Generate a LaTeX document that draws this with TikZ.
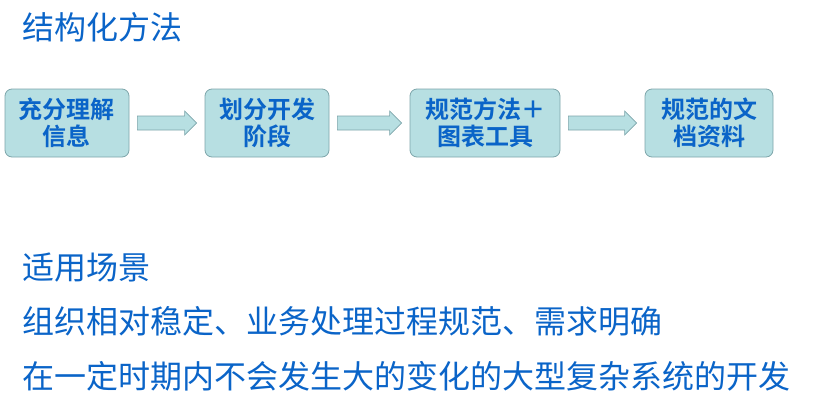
\documentclass[tikz,border=0pt]{standalone}
\usepackage{fontspec}
\newfontfamily\cjk{Noto Sans CJK SC}
\newfontfamily\cjkb{Noto Sans CJK SC Bold}
\definecolor{boxfill}{RGB}{183,223,226}
\definecolor{boxline}{RGB}{125,165,170}
\definecolor{txt}{RGB}{10,100,200}
\tikzset{
 stepbox/.style={draw=boxline,fill=boxfill,rounded corners=7pt,line width=0.8pt,text=txt,font=\cjkb\fontsize{24}{27}\selectfont,align=center,minimum height=68pt,inner sep=1pt},
 blockarrow/.style={draw=boxline,fill=boxfill,line width=0.6pt},
 bigtext/.style={text=txt,font=\cjk\fontsize{32}{34}\selectfont,anchor=west,inner sep=0pt}
}
\begin{document}
\begin{tikzpicture}[x=1pt,y=1pt]
\useasboundingbox (0,0) rectangle (822,-410);
\node[bigtext] (t) at (22,-27) {结构化方法};
\node[stepbox,minimum width=124pt] (a) at (67,-123) {充分理解\\信息};
\node[stepbox,minimum width=124pt] (b) at (267,-123) {划分开发\\阶段};
\node[stepbox,minimum width=150pt] (c) at (485,-123) {规范方法＋\\图表工具};
\node[stepbox,minimum width=128pt] (d) at (709,-123) {规范的文\\档资料};
\foreach \p/\q in {a/b,b/c,c/d}{
 \path (\p.east) ++(8,0) coordinate (s\p);
 \path (\q.west) ++(-8,0) coordinate (e\p);
 \draw[blockarrow] (s\p) ++(0,7) -- ([xshift=-12pt,yshift=7pt]e\p) -- ([xshift=-12pt,yshift=12pt]e\p) -- (e\p) -- ([xshift=-12pt,yshift=-12pt]e\p) -- ([xshift=-12pt,yshift=-7pt]e\p) -- ([yshift=-7pt]s\p) -- cycle;
}
\node[bigtext] (l1) at (22,-268) {适用场景};
\node[bigtext] (l2) at (22,-321) {组织相对稳定、业务处理过程规范、需求明确};
\node[bigtext] (l3) at (22,-376) {在一定时期内不会发生大的变化的大型复杂系统的开发};
\end{tikzpicture}
\end{document}
